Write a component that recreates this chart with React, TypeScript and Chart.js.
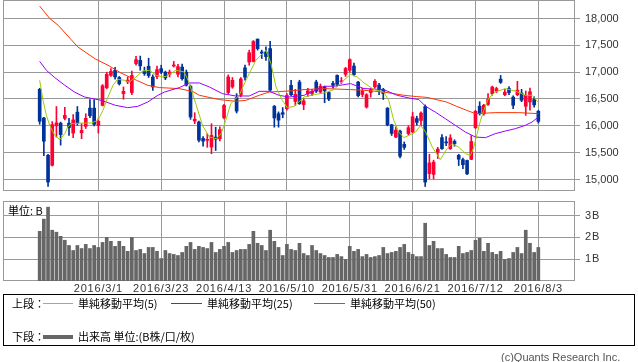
import React, { useEffect, useRef } from "react";
import { Chart, registerables } from "chart.js";

Chart.register(...registerables);

// ---- tick labels ----
const dateTickIdx = [14, 29, 44, 59, 74, 89, 104, 119];
const dateTickLabels = ["2016/3/1", "2016/3/23", "2016/4/13", "2016/5/10", "2016/5/31", "2016/6/21", "2016/7/12", "2016/8/3"];
const priceTicks = [15000, 15500, 16000, 16500, 17000, 17500, 18000];
const volumeTicks = [1, 2, 3];

// ---- daily candles (2016/2/9 .. 2016/8/3) ----
const opens = [16680, 16145, 15450, 15265, 16000, 16050, 16140, 16050, 15865, 16255, 15870, 15990, 16330, 16330, 16005, 16380, 16710, 16940, 17035, 16900, 16600, 16820, 16620, 17160, 17220, 17015, 17110, 16910, 16920, 17065, 17000, 16960, 17115, 16960, 17095, 17000, 16735, 16090, 16070, 15765, 15730, 15605, 15790, 15760, 16150, 16620, 16725, 16525, 16570, 17080, 17190, 17200, 17615, 17375, 17375, 17440, 16365, 16225, 16245, 16320, 16755, 16455, 16815, 16395, 16600, 16600, 16815, 16630, 16720, 16620, 16790, 16940, 16820, 16960, 17035, 17115, 16815, 16585, 16350, 16620, 16725, 16760, 16675, 16330, 16020, 15790, 15900, 15655, 15855, 15885, 16135, 16100, 16360, 15110, 15095, 15510, 15780, 15700, 15575, 15710, 15450, 15370, 15355, 15375, 15965, 16365, 16225, 16400, 16600, 16650, 16870, 16580, 16695, 16535, 16580, 16610, 16365, 16445, 16490, 16270];
const highs = [16700, 16160, 15470, 16080, 16360, 16070, 16345, 16140, 16210, 16360, 16040, 16225, 16490, 16490, 16135, 16770, 17000, 17065, 17090, 16920, 16725, 16910, 17020, 17295, 17300, 17095, 17260, 16950, 17115, 17130, 17020, 17040, 17200, 17145, 17150, 17040, 16760, 16245, 16090, 15800, 15855, 16040, 15975, 15980, 16400, 16950, 16900, 16600, 16900, 17130, 17410, 17590, 17620, 17410, 17470, 17575, 16380, 16260, 16340, 16600, 16850, 16680, 16850, 16500, 16700, 16680, 16850, 16780, 16740, 16640, 16830, 16950, 16900, 17090, 17250, 17170, 16830, 16700, 16600, 16700, 16860, 16790, 16700, 16340, 16030, 15980, 15920, 15700, 16000, 16250, 16180, 16260, 16390, 15470, 15360, 15600, 15835, 15800, 15835, 15740, 15470, 15400, 15360, 15820, 16290, 16450, 16400, 16600, 16740, 16720, 16940, 16680, 16730, 16560, 16830, 16680, 16650, 16705, 16540, 16290];
const lows = [16030, 15445, 14870, 15250, 15790, 15640, 16110, 15820, 15780, 16010, 15760, 15950, 16150, 16000, 15865, 16370, 16690, 16920, 16870, 16760, 16495, 16785, 16580, 17130, 17035, 16940, 16900, 16660, 16880, 16970, 16860, 16910, 17095, 16910, 16850, 16740, 16120, 16040, 15700, 15620, 15600, 15480, 15540, 15720, 16130, 16600, 16700, 16240, 16540, 16850, 17130, 17190, 17410, 17255, 17220, 16650, 15975, 15975, 16150, 16290, 16560, 16380, 16400, 16300, 16550, 16560, 16620, 16610, 16430, 16470, 16700, 16740, 16790, 16920, 17000, 16930, 16540, 16540, 16330, 16535, 16700, 16580, 16490, 16000, 15820, 15780, 15400, 15560, 15830, 15870, 16010, 16000, 14870, 15015, 15010, 15390, 15560, 15630, 15560, 15620, 15260, 15200, 15090, 15370, 15950, 16200, 16200, 16380, 16570, 16620, 16790, 16560, 16580, 16320, 16560, 16450, 16195, 16290, 16350, 16050];
const closes = [16085, 15713, 14952, 16022, 16054, 15836, 16196, 15967, 16111, 16052, 15915, 16140, 16188, 16027, 16085, 16746, 16960, 17014, 16911, 16783, 16642, 16852, 16938, 17233, 17117, 16974, 16936, 16724, 17048, 17000, 16892, 17002, 17134, 17103, 16878, 16758, 16164, 16123, 15732, 15715, 15749, 15821, 15751, 15928, 16381, 16911, 16848, 16275, 16874, 16906, 17363, 17572, 17439, 17353, 17290, 16666, 16147, 16106, 16216, 16565, 16579, 16590, 16412, 16466, 16652, 16644, 16646, 16736, 16654, 16498, 16757, 16772, 16834, 17068, 17234, 16955, 16562, 16642, 16580, 16675, 16830, 16668, 16601, 16019, 15859, 15919, 15434, 15599, 15965, 16169, 16065, 16238, 14952, 15309, 15323, 15566, 15575, 15682, 15775, 15669, 15378, 15276, 15106, 15708, 16270, 16231, 16385, 16497, 16723, 16694, 16811, 16627, 16620, 16383, 16664, 16476, 16569, 16635, 16391, 16083];

// ---- volume (billions) ----
const volumes = [2.28, 2.84, 3.39, 2.33, 2.24, 2.05, 1.87, 1.63, 1.40, 1.63, 1.49, 1.68, 1.49, 1.63, 1.54, 1.77, 2.00, 1.82, 1.59, 1.82, 1.59, 1.36, 2.00, 1.40, 1.45, 1.26, 1.54, 1.54, 1.36, 1.03, 1.40, 1.26, 1.22, 1.17, 1.31, 1.59, 1.77, 1.45, 1.59, 1.54, 1.49, 1.77, 1.31, 1.45, 1.59, 1.77, 1.31, 1.40, 1.45, 1.45, 1.68, 2.28, 1.73, 1.63, 1.40, 2.33, 1.82, 1.54, 1.17, 1.68, 1.45, 1.40, 1.73, 1.26, 1.17, 1.63, 1.40, 1.26, 1.17, 1.08, 1.08, 1.22, 1.12, 0.99, 1.59, 1.36, 1.45, 1.12, 1.22, 1.08, 1.12, 1.17, 1.54, 1.26, 1.31, 1.36, 1.54, 1.68, 1.31, 1.22, 1.12, 1.12, 2.65, 1.63, 1.82, 1.49, 1.49, 1.22, 1.08, 1.08, 1.59, 1.26, 1.31, 1.40, 1.87, 1.96, 1.36, 1.73, 1.31, 1.22, 1.36, 0.99, 1.03, 1.31, 1.54, 1.26, 2.33, 1.73, 1.31, 1.54];

// ---- moving averages: [candle index, value] ----
const ma5 = [[0, 16849], [0.8, 16475], [1.6, 16196], [2.4, 16009], [3.6, 15822], [4.8, 15742], [6, 15854], [6.7, 15977], [7.5, 16041], [9.9, 16052], [12.3, 16052], [13.9, 16102], [15.1, 16289], [16.3, 16537], [17.5, 16755], [18.6, 16867], [20.2, 16849], [21.4, 16817], [23, 16910], [24.6, 17022], [26.2, 17035], [27.8, 16942], [29.4, 16910], [30.2, 16923], [32.5, 17035], [34.5, 17004], [35.7, 16800], [37.3, 16400], [38.9, 16000], [40.5, 15791], [42.1, 15761], [43.3, 15854], [44.4, 16100], [45.6, 16414], [47.6, 16569], [49.6, 16910], [51.6, 17222], [53.2, 17347], [54, 17408], [55.2, 17160], [56.4, 16724], [57.9, 16475], [59.1, 16339], [60.7, 16363], [63.1, 16537], [65.5, 16582], [67.9, 16612], [70.2, 16675], [72.6, 16849], [74.2, 16961], [75.8, 16910], [77.4, 16799], [79.8, 16675], [82.1, 16630], [83.3, 16475], [84.5, 16102], [85.7, 15884], [86.9, 15780], [88.1, 15822], [89.7, 15884], [90.9, 16009], [92.1, 15884], [93.7, 15604], [95.6, 15369], [97.2, 15574], [98.4, 15667], [100, 15604], [101.6, 15481], [102.8, 15449], [103.6, 15604], [104.4, 15854], [105.2, 16102], [106, 16289], [107.1, 16507], [108.7, 16630], [111.1, 16694], [113.5, 16649], [115.9, 16569], [117.5, 16569], [119, 16440]];
const ma25 = [[0, 17203], [1.6, 17035], [3.6, 16899], [6, 16755], [8.3, 16630], [10.7, 16537], [14.7, 16475], [18.1, 16382], [21, 16339], [23.4, 16363], [25.8, 16444], [28.2, 16569], [29.8, 16630], [33.3, 16712], [35.7, 16799], [38.1, 16799], [40.5, 16724], [43.6, 16600], [46.8, 16556], [50, 16556], [52.4, 16643], [54.8, 16643], [57.1, 16569], [59.5, 16537], [63.1, 16569], [67.9, 16737], [70.2, 16737], [74.2, 16787], [77.4, 16694], [82.1, 16675], [85.3, 16569], [88.1, 16519], [90.5, 16489], [92.1, 16363], [94.4, 16257], [96.8, 16134], [99.2, 16009], [101.6, 15884], [104, 15791], [106.4, 15780], [108.7, 15854], [111.1, 15903], [113.5, 15947], [115.9, 16009], [117.5, 16071], [119, 16164]];
const ma50 = [[0, 18230], [2.4, 18000], [4.4, 17875], [7.5, 17608], [9.1, 17470], [13.3, 17245], [16.3, 17129], [19.4, 16985], [23.1, 16849], [25.8, 16755], [28.6, 16712], [33.3, 16694], [36.5, 16640], [38.1, 16569], [42.9, 16489], [46.8, 16457], [49.2, 16475], [52.4, 16569], [54.8, 16630], [59.5, 16649], [63.1, 16675], [67.9, 16694], [74.2, 16675], [77.4, 16662], [82.1, 16630], [86.9, 16569], [90, 16545], [92.4, 16530], [97.1, 16444], [99.5, 16363], [101.9, 16289], [104, 16227], [108.7, 16246], [114.3, 16246], [119, 16227]];

const UP = "#ff0033";
const DOWN = "#003399";
const GRID = "#999999";
const TICK_FONT = { family: "'Liberation Sans', Arial, sans-serif", size: 11 };
const TICK_COLOR = "#333333";
const X_MIN = -8.75;
const X_MAX = 127.75;

const framePlugin = {
  id: "frame",
  beforeDatasetsDraw(chart: any) {
    const { ctx, chartArea: a } = chart;
    ctx.save();
    ctx.strokeStyle = GRID;
    ctx.lineWidth = 1;
    const l = Math.floor(a.left) + 0.5;
    const r = Math.ceil(a.right) - 0.5;
    const t = Math.floor(a.top) + 0.5;
    const b = Math.ceil(a.bottom) - 0.5;
    ctx.strokeRect(l, t, r - l, b - t);
    ctx.restore();
  },
};

const spacingPlugin = {
  id: "spacing",
  beforeDraw(chart: any) {
    chart.ctx.letterSpacing = "0.8px";
  },
};

function xScale(showLabels: boolean, height: number) {
  return {
    type: "linear",
    min: X_MIN,
    max: X_MAX,
    offset: false,
    afterBuildTicks: (s: any) => {
      s.ticks = dateTickIdx.map((v) => ({ value: v }));
    },
    afterFit: (s: any) => {
      s.height = height;
      s.paddingLeft = 0;
      s.paddingRight = 0;
    },
    ticks: {
      display: showLabels,
      autoSkip: false,
      maxRotation: 0,
      minRotation: 0,
      padding: 1,
      font: TICK_FONT,
      color: TICK_COLOR,
      callback: (v: any) => {
        const k = dateTickIdx.indexOf(Number(v));
        return k >= 0 ? dateTickLabels[k] : "";
      },
    },
    grid: { color: GRID, drawTicks: false, offset: false },
    border: { display: false },
  };
}

export default function App() {
  const topRef = useRef<HTMLCanvasElement>(null);
  const volRef = useRef<HTMLCanvasElement>(null);

  useEffect(() => {
    const idx = closes.map((_, i) => i);
    const colors = idx.map((i) => (closes[i] >= opens[i] ? UP : DOWN));

    const lineDs = (pts: number[][], color: string) => ({
      type: "line",
      data: pts.map(([x, y]) => ({ x, y })),
      borderColor: color,
      borderWidth: 1,
      pointRadius: 0,
      tension: 0,
      fill: false,
      order: 0,
    });

    const top = new Chart(topRef.current as HTMLCanvasElement, {
      type: "bar",
      data: {
        datasets: [
          lineDs(ma5, "#99cc00"),
          lineDs(ma25, "#9900ff"),
          lineDs(ma50, "#ff3300"),
          {
            type: "bar",
            data: idx.map((i) => ({ x: i, y: [lows[i], highs[i]] })),
            backgroundColor: colors,
            barThickness: 1,
            grouped: false,
            borderWidth: 0,
            order: 2,
          },
          {
            type: "bar",
            data: idx.map((i) => ({ x: i, y: [Math.min(opens[i], closes[i]), Math.max(opens[i], closes[i])] })),
            backgroundColor: colors,
            barThickness: 3,
            minBarLength: 1,
            grouped: false,
            borderWidth: 0,
            order: 1,
          },
        ] as any,
      },
      options: {
        responsive: false,
        animation: false,
        devicePixelRatio: 1,
        layout: { padding: { left: 3, top: 0, right: 0, bottom: 0 } },
        plugins: { legend: { display: false }, tooltip: { enabled: false } },
        scales: {
          x: xScale(false, 0) as any,
          y: {
            type: "linear",
            position: "right",
            min: 14785.7,
            max: 18344.7,
            afterBuildTicks: (s: any) => {
              s.ticks = priceTicks.map((v) => ({ value: v }));
            },
            afterFit: (s: any) => {
              s.width = 63;
              s.paddingTop = 0;
              s.paddingBottom = 0;
            },
            ticks: {
              padding: 5,
              font: TICK_FONT,
              color: TICK_COLOR,
              callback: (v: any) => Number(v).toLocaleString("en-US"),
            },
            grid: { color: GRID, tickLength: 5 },
            border: { display: false },
          } as any,
        },
      },
      plugins: [framePlugin],
    } as any);

    const vol = new Chart(volRef.current as HTMLCanvasElement, {
      type: "bar",
      data: {
        datasets: [
          {
            data: idx.map((i) => ({ x: i, y: volumes[i] })),
            backgroundColor: "#666666",
            barThickness: 3,
            borderWidth: 0,
            grouped: false,
          },
        ] as any,
      },
      options: {
        responsive: false,
        animation: false,
        devicePixelRatio: 1,
        layout: { padding: { left: 3, top: 6, right: 0, bottom: 0 } },
        plugins: { legend: { display: false }, tooltip: { enabled: false } },
        scales: {
          x: xScale(true, 14) as any,
          y: {
            type: "linear",
            position: "right",
            min: 0,
            max: 3.67,
            afterBuildTicks: (s: any) => {
              s.ticks = volumeTicks.map((v) => ({ value: v }));
            },
            afterFit: (s: any) => {
              s.width = 63;
              s.paddingTop = 0;
              s.paddingBottom = 0;
            },
            ticks: {
              padding: 5,
              font: TICK_FONT,
              color: TICK_COLOR,
              callback: (v: any) => `${v}B`,
            },
            grid: { color: GRID, tickLength: 5 },
            border: { display: false },
          } as any,
        },
      },
      plugins: [framePlugin, spacingPlugin],
    } as any);

    return () => {
      top.destroy();
      vol.destroy();
    };
  }, []);

  const jp: React.CSSProperties = {
    position: "absolute",
    fontFamily: "'Noto Sans CJK JP', sans-serif",
    fontSize: 11,
    lineHeight: "13px",
    color: "#000",
    whiteSpace: "nowrap",
  };
  const line = (left: number, top: number, width: number, height: number, color: string): React.CSSProperties => ({
    position: "absolute",
    left,
    top,
    width,
    height,
    background: color,
  });

  return (
    <div style={{ position: "fixed", left: 0, top: 0, width: 638, height: 362, background: "#fff", overflow: "hidden" }}>
      <canvas ref={topRef} width={638} height={191} style={{ position: "absolute", left: 0, top: 0, width: 638, height: 191 }} />
      <canvas ref={volRef} width={638} height={100} style={{ position: "absolute", left: 0, top: 195, width: 638, height: 100 }} />
      <div style={{ ...jp, left: 8, top: 204 }}>単位: B</div>

      <div style={{ position: "absolute", left: 3, top: 294, width: 632, height: 52, border: "1px solid #000", boxSizing: "border-box" }} />
      <div style={{ ...jp, left: 12, top: 297 }}>上段：</div>
      <div style={line(43, 303, 30, 1, "#99cc00")} />
      <div style={{ ...jp, left: 78, top: 297 }}>単純移動平均(5)</div>
      <div style={line(171, 303, 31, 1, "#9900ff")} />
      <div style={{ ...jp, left: 207, top: 297 }}>単純移動平均(25)</div>
      <div style={line(314, 303, 31, 1, "#ff3300")} />
      <div style={{ ...jp, left: 350, top: 297 }}>単純移動平均(50)</div>

      <div style={{ ...jp, left: 12, top: 330 }}>下段：</div>
      <div style={line(43, 335, 30, 4, "#666666")} />
      <div style={{ ...jp, left: 78, top: 330 }}>出来高 単位:(B株/口/枚)</div>

      <div
        style={{
          position: "absolute",
          left: 501,
          top: 351,
          fontFamily: "'Liberation Sans', Arial, sans-serif",
          fontSize: 11,
          lineHeight: "13px",
          color: "#555",
          whiteSpace: "nowrap",
        }}
      >
        (c)Quants Research Inc.
      </div>
    </div>
  );
}
